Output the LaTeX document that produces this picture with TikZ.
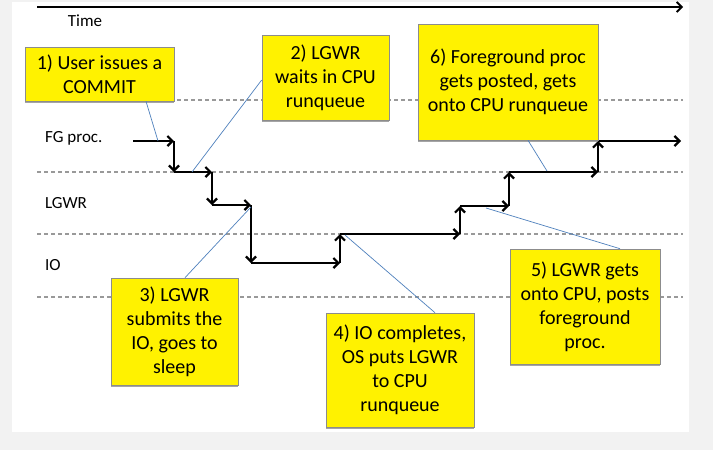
\documentclass[tikz,border=0pt]{standalone}
\usepackage{fontspec}
\setmainfont{Carlito}
\usetikzlibrary{arrows.meta,shadows}
\definecolor{pointerblue}{RGB}{79,129,189}

\begin{document}
\begin{tikzpicture}[x=1pt,y=-1pt,
    lane/.style={black!40,dash pattern=on 4pt off 3pt,line width=1.1pt},
    stair/.style={line width=2.2pt,-{Straight Barb[length=5pt,width=10pt]}},
    note/.style={fill=yellow,draw=black!45,line width=0.6pt,inner sep=0pt,align=center,
        font=\fontsize{20}{24}\selectfont,
        drop shadow={shadow xshift=0pt,shadow yshift=-2pt,opacity=0.7}},
    pointer/.style={draw=pointerblue,line width=0.7pt},
    lbl/.style={anchor=west,inner sep=0pt,font=\fontsize{17}{20}\selectfont}]
            \useasboundingbox (0,0) rectangle (713,450);
            \fill[black!5] (0,0) rectangle (713,450);
            \fill[white] (12,2) rectangle (689,432);

            \coordinate (t0) at (37,7);
            \coordinate (t1) at (683,7);
            \draw[line width=1.8pt,-{Straight Barb[length=5pt,width=10pt]}] (t0) -- (t1);
            \node[font=\fontsize{17}{20}\selectfont] (time) at (85,21) {Time};

            \draw[lane] (37,100) -- (683,100);
            \draw[lane] (37,172) -- (683,172);
            \draw[lane] (37,234) -- (683,234);
            \draw[lane] (37,297) -- (683,297);

            \node[lbl] (fg) at (45,138) {FG proc.};
            \node[lbl] (lgwr) at (45,203) {LGWR};
            \node[lbl] (io) at (45,265) {IO};

            \coordinate (s0) at (133,141);
            \coordinate (s1) at (174,141);
            \coordinate (s2) at (174,172);
            \coordinate (s3) at (212,172);
            \coordinate (s4) at (212,205);
            \coordinate (s5) at (251,205);
            \coordinate (s6) at (251,263);
            \coordinate (s7) at (340,263);
            \coordinate (s8) at (340,234);
            \coordinate (s9) at (460,234);
            \coordinate (s10) at (460,206);
            \coordinate (s11) at (509,206);
            \coordinate (s12) at (509,172);
            \coordinate (s13) at (598,172);
            \coordinate (s14) at (598,141);
            \coordinate (s15) at (681,141);
            \draw[stair] (s0) -- (s1);
            \draw[stair] (s1) -- (s2);
            \draw[stair] (s2) -- (s3);
            \draw[stair] (s3) -- (s4);
            \draw[stair] (s4) -- (s5);
            \draw[stair] (s5) -- (s6);
            \draw[stair] (s6) -- (s7);
            \draw[stair] (s7) -- (s8);
            \draw[stair] (s8) -- (s9);
            \draw[stair] (s9) -- (s10);
            \draw[stair] (s10) -- (s11);
            \draw[stair] (s11) -- (s12);
            \draw[stair] (s12) -- (s13);
            \draw[stair] (s13) -- (s14);
            \draw[stair] (s14) -- (s15);

            \node[note,minimum width=149pt,minimum height=54pt] (commit) at (99.5,74) {1) User issues a\\COMMIT};
            \node[note,minimum width=127pt,minimum height=85pt] (waits) at (325.5,77.5) {2) LGWR\\waits in CPU\\runqueue};
            \node[note,minimum width=127pt,minimum height=107pt] (submits) at (174.5,331.5) {3) LGWR\\submits the\\IO, goes to\\sleep};
            \node[note,minimum width=148pt,minimum height=114pt] (completes) at (400,370) {4) IO completes,\\OS puts LGWR\\to CPU\\runqueue};
            \node[note,minimum width=150pt,minimum height=115pt] (posts) at (585,306.5) {5) LGWR gets\\onto CPU, posts\\foreground\\proc.};
            \node[note,minimum width=180pt,minimum height=116pt] (posted) at (508,82) {6) Foreground proc\\gets posted, gets\\onto CPU runqueue};

            \coordinate (p1) at (158,141);
            \coordinate (p2) at (192,172);
            \coordinate (p3) at (251,207);
            \coordinate (p4) at (345,235);
            \coordinate (p5) at (486,208);
            \coordinate (p6) at (547,171);
            \draw[pointer] (commit.south -| 146,0) -- (p1);
            \draw[pointer] (waits.west |- 0,80) -- (p2);
            \draw[pointer] (submits.north -| 185,0) -- (p3);
            \draw[pointer] (p4) -- (completes.north -| 435,0);
            \draw[pointer] (p5) -- (posts.north -| 620,0);
            \draw[pointer] (posted.south -| 528,0) -- (p6);
        \end{tikzpicture}
\end{document}
